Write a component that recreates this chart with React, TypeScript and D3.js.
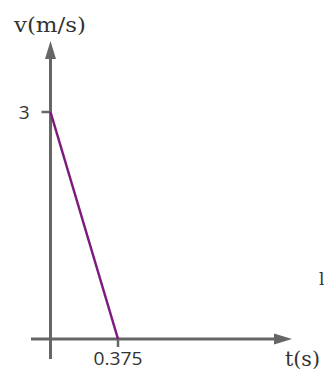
import React from "react";
import * as d3 from "d3";

// Velocity-time data: uniform deceleration from 3 m/s to rest
const times = [0, 0.375];
const velocities = [3, 0];
const xTickValues = [0.375];
const yTickValues = [3];
const xTickLabels = ["0.375"];
const yTickLabels = ["3"];
const xAxisTitle = "t(s)";
const yAxisTitle = "v(m/s)";

const W = 324;
const H = 373;
const ORIGIN_X = 50.5;
const ORIGIN_Y = 339;

const x = d3.scaleLinear().domain([0, 0.375]).range([ORIGIN_X, 118]);
const y = d3.scaleLinear().domain([0, 3]).range([ORIGIN_Y, 112]);

const axisColor = "#666666";
const lineColor = "#7d1a80";
const textColor = "#333333";

export default function App() {
  const points = times.map((t, i) => [t, velocities[i]] as [number, number]);
  const line = d3
    .line<[number, number]>()
    .x((d) => x(d[0]))
    .y((d) => y(d[1]));

  // axis extents (pixels)
  const xAxisStart = 31;
  const xArrowBase = 274;
  const xArrowTip = 292;
  const yAxisBottom = 359;
  const yArrowBase = 59;
  const yArrowTip = 41;
  const half = 5.5;

  return (
    <svg
      width={W}
      height={H}
      style={{ position: "absolute", left: 0, top: 0, background: "#fff" }}
    >
      {/* x axis */}
      <line
        x1={xAxisStart}
        x2={xArrowBase + 1}
        y1={ORIGIN_Y}
        y2={ORIGIN_Y}
        stroke={axisColor}
        strokeWidth={3}
      />
      <polygon
        points={`${xArrowBase},${ORIGIN_Y - half} ${xArrowTip},${ORIGIN_Y} ${xArrowBase},${ORIGIN_Y + half}`}
        fill={axisColor}
      />
      {/* y axis */}
      <line
        x1={ORIGIN_X}
        x2={ORIGIN_X}
        y1={yAxisBottom}
        y2={yArrowBase - 1}
        stroke={axisColor}
        strokeWidth={3}
      />
      <polygon
        points={`${ORIGIN_X - half},${yArrowBase} ${ORIGIN_X},${yArrowTip} ${ORIGIN_X + half},${yArrowBase}`}
        fill={axisColor}
      />
      {/* ticks */}
      {yTickValues.map((v, i) => (
        <g key={"y" + i}>
          <line
            x1={ORIGIN_X - 9}
            x2={ORIGIN_X}
            y1={y(v)}
            y2={y(v)}
            stroke={axisColor}
            strokeWidth={2.5}
          />
          <text
            x={29.5}
            y={y(v)}
            dy="0.36em"
            textAnchor="end"
            fontFamily="'Open Sans', sans-serif"
            fontSize={19}
            fill={textColor}
          >
            {yTickLabels[i]}
          </text>
        </g>
      ))}
      {xTickValues.map((v, i) => (
        <g key={"x" + i}>
          <line
            x1={x(v)}
            x2={x(v)}
            y1={ORIGIN_Y}
            y2={ORIGIN_Y + 8}
            stroke={axisColor}
            strokeWidth={2.5}
          />
          <text
            x={x(v)}
            y={365}
            textAnchor="middle"
            fontFamily="'Open Sans', sans-serif"
            fontSize={18}
            fill={textColor}
            textLength={49}
            lengthAdjust="spacingAndGlyphs"
          >
            {xTickLabels[i]}
          </text>
        </g>
      ))}
      {/* data line */}
      <path d={line(points) ?? ""} fill="none" stroke={lineColor} strokeWidth={2.5} />
      {/* axis titles */}
      <text
        x={14}
        y={32}
        fontFamily="'DejaVu Serif', serif"
        fontSize={21}
        fill={textColor}
        textLength={72}
        lengthAdjust="spacingAndGlyphs"
      >
        {yAxisTitle}
      </text>
      <text
        x={285}
        y={366}
        fontFamily="'DejaVu Serif', serif"
        fontSize={21}
        fill={textColor}
        textLength={35}
        lengthAdjust="spacingAndGlyphs"
      >
        {xAxisTitle}
      </text>
      <text
        x={319}
        y={285}
        fontFamily="'DejaVu Serif', serif"
        fontSize={17}
        fill={textColor}
      >
        l
      </text>
    </svg>
  );
}
